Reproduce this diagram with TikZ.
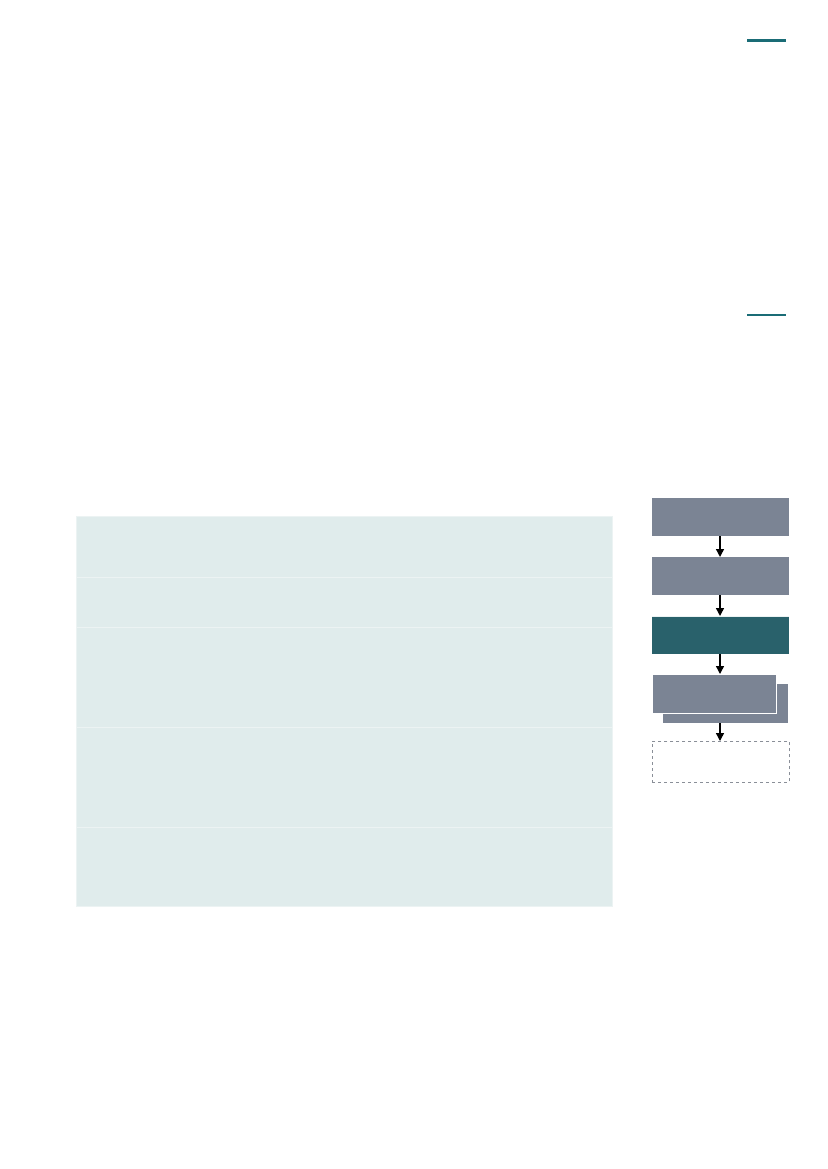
\documentclass[tikz,border=0pt]{standalone}
\usetikzlibrary{arrows.meta}
\definecolor{tealline}{HTML}{1A6C76}
\definecolor{tablefill}{HTML}{E0ECEC}
\definecolor{tablesep}{HTML}{ECF3F3}
\definecolor{slate}{HTML}{7B8494}
\definecolor{deepteal}{HTML}{29616B}
\definecolor{dashgray}{HTML}{8A8F98}
\tikzset{
  flowbox/.style={draw=none, fill=slate, minimum width=137pt, minimum height=38pt, inner sep=0pt, anchor=north west},
  flowarrow/.style={-{Triangle[length=8pt,width=8pt]}, line width=1.4pt, black},
  rowline/.style={draw=tablesep, line width=0.8pt}
}
\begin{document}
\begin{tikzpicture}[x=1pt,y=-1pt]
\useasboundingbox (0,0) rectangle (827,1169);
% accent lines
\draw[tealline, line width=3pt] (747,41) -- (786,41);
\draw[tealline, line width=2pt] (747,315) -- (786,315);
% table
\node[draw=tablesep, fill=tablefill, minimum width=536pt, minimum height=390pt, inner sep=0pt, anchor=north west] (tbl) at (76,516) {};
\coordinate (r1) at (76,577); \coordinate (r1e) at (612,577);
\coordinate (r2) at (76,627); \coordinate (r2e) at (612,627);
\coordinate (r3) at (76,727); \coordinate (r3e) at (612,727);
\coordinate (r4) at (76,827); \coordinate (r4e) at (612,827);
\draw[rowline] (r1) -- (r1e);
\draw[rowline] (r2) -- (r2e);
\draw[rowline] (r3) -- (r3e);
\draw[rowline] (r4) -- (r4e);
% flow
\node[flowbox] (b1) at (652,498) {};
\node[flowbox] (b2) at (652,557) {};
\node[flowbox, fill=deepteal] (b3) at (652,616) {};
\draw[tablesep, line width=0.6pt] (b3.north west) -- (b3.north east);
\node[flowbox, minimum width=125pt, minimum height=39pt] (b4b) at (663,684) {};
\node[flowbox, draw=white, line width=1pt, minimum width=124pt, minimum height=39pt] (b4) at (652,674) {};
\node[draw=dashgray, dashed, line width=0.6pt, minimum width=137pt, minimum height=41pt, inner sep=0pt, anchor=north west] (b5) at (652,741) {};
\coordinate (ax) at (720,0);
\draw[flowarrow] (b1.south -| ax) -- (b2.north -| ax);
\draw[flowarrow] (b2.south -| ax) -- (b3.north -| ax);
\draw[flowarrow] (b3.south -| ax) -- (b4.north -| ax);
\draw[flowarrow] (b4b.south -| ax) -- (b5.north -| ax);
\end{tikzpicture}
\end{document}
